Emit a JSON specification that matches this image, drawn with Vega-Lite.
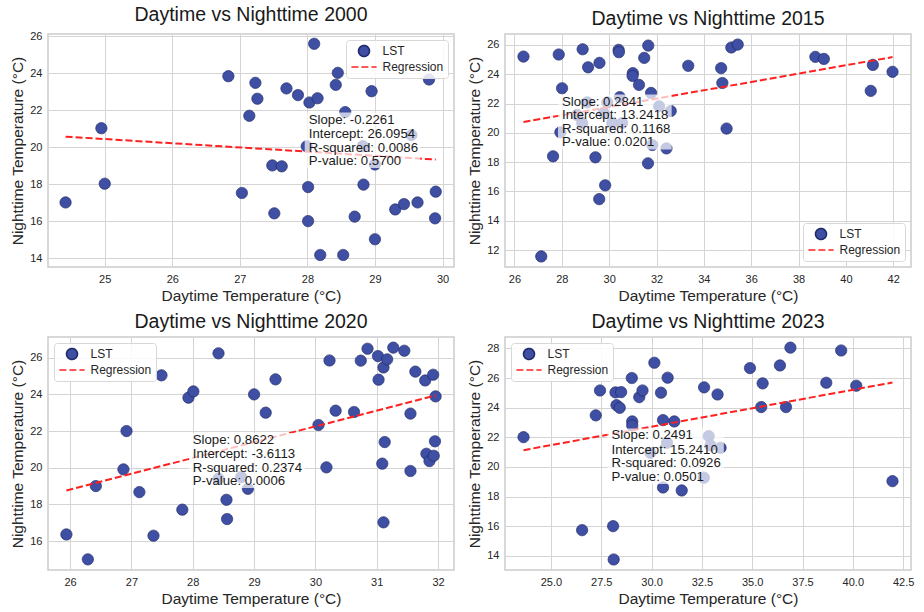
{
  "$schema": "https://vega.github.io/schema/vega-lite/v6.json",
  "padding": {"left": 10, "top": 3, "right": 0, "bottom": 0},
  "columns": 2,
  "spacing": {"row": 5, "column": 12},
  "resolve": {"scale": {"shape": "independent", "stroke": "independent", "strokeDash": "independent", "x": "independent", "y": "independent"}, "legend": {"shape": "independent", "stroke": "independent", "strokeDash": "independent"}},
  "config": {
    "font": "Liberation Sans",
    "view": {"stroke": "#cccccc", "strokeWidth": 1.5},
    "axis": {"grid": true, "gridColor": "#d4d4d4", "gridWidth": 1, "domain": false, "ticks": false, "labelFontSize": 11, "labelColor": "#262626", "labelPadding": 6, "labelOverlap": false, "titleFontSize": 15.5, "titleFontWeight": "normal", "titleColor": "#262626", "titlePadding": 4},
    "title": {"fontSize": 19.5, "fontWeight": "normal", "color": "#1a1a1a", "offset": 5},
    "legend": {"title": null, "padding": 4.5, "offset": 6, "fillColor": "rgba(255,255,255,0.85)", "strokeColor": "#d8d8d8", "cornerRadius": 3, "labelFontSize": 12, "labelColor": "#262626", "symbolSize": 120, "symbolOffset": 7, "labelOffset": 12, "rowPadding": 0, "symbolStrokeWidth": 1.6, "symbolOpacity": 1}
  },
  "datasets": {
    "pts2000": [
      {"day": 24.42, "night": 17.02}, {"day": 24.95, "night": 21.03}, {"day": 25.0, "night": 18.03}, {"day": 26.83, "night": 23.84},
      {"day": 27.03, "night": 17.53}, {"day": 27.14, "night": 21.7}, {"day": 27.23, "night": 23.48}, {"day": 27.26, "night": 22.62},
      {"day": 27.48, "night": 19.02}, {"day": 27.51, "night": 16.43}, {"day": 27.62, "night": 18.97}, {"day": 27.69, "night": 23.18},
      {"day": 27.86, "night": 22.82}, {"day": 28.01, "night": 17.85}, {"day": 28.01, "night": 16.01}, {"day": 28.03, "night": 22.42},
      {"day": 28.1, "night": 25.59}, {"day": 28.15, "night": 22.65}, {"day": 28.19, "night": 14.18}, {"day": 28.42, "night": 23.37},
      {"day": 28.45, "night": 24.02}, {"day": 28.53, "night": 14.18}, {"day": 28.56, "night": 21.9}, {"day": 28.7, "night": 16.25},
      {"day": 28.83, "night": 17.98}, {"day": 28.95, "night": 23.03}, {"day": 29.0, "night": 15.03}, {"day": 29.0, "night": 19.07},
      {"day": 29.3, "night": 16.64}, {"day": 29.43, "night": 16.93}, {"day": 29.63, "night": 17.02}, {"day": 29.54, "night": 20.66},
      {"day": 29.8, "night": 23.66}, {"day": 29.9, "night": 17.6}, {"day": 29.89, "night": 16.16}, {"day": 27.99, "night": 20.05},
      {"day": 28.82, "night": 20.06}
    ],
    "reg2000": [{"day": 24.42, "night": 20.574}, {"day": 29.9, "night": 19.335}],
    "box2000": [{"day": 27.96, "day2": 29.67, "night": 21.88, "night2": 18.88}],
    "txt2000": [
      {"day": 28.02, "night": 21.48, "label": "Slope: -0.2261"},
      {"day": 28.02, "night": 20.73, "label": "Intercept: 26.0954"},
      {"day": 28.02, "night": 19.97, "label": "R-squared: 0.0086"},
      {"day": 28.02, "night": 19.25, "label": "P-value: 0.5700"}
    ],
    "pts2015": [
      {"day": 26.38, "night": 25.2}, {"day": 27.13, "night": 11.57}, {"day": 27.63, "night": 18.4}, {"day": 27.87, "night": 25.34},
      {"day": 28.01, "night": 23.04}, {"day": 27.94, "night": 20.04}, {"day": 28.88, "night": 25.7}, {"day": 29.11, "night": 24.47},
      {"day": 29.42, "night": 18.33}, {"day": 29.59, "night": 24.77}, {"day": 29.58, "night": 15.48}, {"day": 29.83, "night": 16.42},
      {"day": 30.4, "night": 25.66}, {"day": 30.41, "night": 25.5}, {"day": 31.0, "night": 24.07}, {"day": 30.99, "night": 23.88},
      {"day": 31.26, "night": 23.27}, {"day": 31.48, "night": 25.11}, {"day": 31.65, "night": 25.95}, {"day": 31.64, "night": 17.92},
      {"day": 31.77, "night": 22.72}, {"day": 33.34, "night": 24.57}, {"day": 34.73, "night": 24.41}, {"day": 34.78, "night": 23.4},
      {"day": 34.96, "night": 20.29}, {"day": 35.16, "night": 25.82}, {"day": 35.43, "night": 26.02}, {"day": 38.71, "night": 25.18},
      {"day": 39.07, "night": 25.04}, {"day": 41.05, "night": 22.86}, {"day": 41.14, "night": 24.63}, {"day": 41.97, "night": 24.16},
      {"day": 29.07, "night": 22.08}, {"day": 29.92, "night": 22.08}, {"day": 30.45, "night": 22.43}, {"day": 28.64, "night": 21.22},
      {"day": 29.77, "night": 21.36}, {"day": 28.86, "night": 20.67}, {"day": 30.13, "night": 20.67}, {"day": 30.55, "night": 20.67},
      {"day": 32.11, "night": 21.81}, {"day": 32.6, "night": 21.49}, {"day": 31.82, "night": 19.17}, {"day": 32.42, "night": 18.94}
    ],
    "reg2015": [{"day": 26.38, "night": 20.736}, {"day": 41.97, "night": 25.166}],
    "box2015": [{"day": 27.84, "day2": 32.64, "night": 22.61, "night2": 18.87}],
    "txt2015": [
      {"day": 28.01, "night": 22.13, "label": "Slope: 0.2841"},
      {"day": 28.01, "night": 21.22, "label": "Intercept: 13.2418"},
      {"day": 28.01, "night": 20.26, "label": "R-squared: 0.1168"},
      {"day": 28.01, "night": 19.35, "label": "P-value: 0.0201"}
    ],
    "pts2020": [
      {"day": 25.94, "night": 16.36}, {"day": 26.29, "night": 15.0}, {"day": 26.42, "night": 19.0}, {"day": 26.87, "night": 19.91},
      {"day": 26.92, "night": 22.0}, {"day": 27.13, "night": 18.67}, {"day": 27.36, "night": 16.29}, {"day": 27.49, "night": 25.04},
      {"day": 27.83, "night": 17.71}, {"day": 27.93, "night": 23.82}, {"day": 28.01, "night": 24.16}, {"day": 28.42, "night": 26.24},
      {"day": 28.55, "night": 18.25}, {"day": 28.56, "night": 17.2}, {"day": 29.0, "night": 24.0}, {"day": 29.19, "night": 23.0},
      {"day": 29.35, "night": 24.82}, {"day": 30.05, "night": 22.33}, {"day": 30.18, "night": 20.02}, {"day": 30.23, "night": 25.85},
      {"day": 30.33, "night": 23.11}, {"day": 30.63, "night": 23.04}, {"day": 30.74, "night": 25.84}, {"day": 30.85, "night": 26.49},
      {"day": 31.02, "night": 26.09}, {"day": 31.03, "night": 24.8}, {"day": 31.11, "night": 25.47}, {"day": 31.17, "night": 25.91},
      {"day": 31.09, "night": 20.22}, {"day": 31.13, "night": 21.4}, {"day": 31.11, "night": 17.02}, {"day": 31.27, "night": 26.55},
      {"day": 31.45, "night": 26.38}, {"day": 31.55, "night": 22.95}, {"day": 31.55, "night": 19.82}, {"day": 31.63, "night": 25.24},
      {"day": 31.79, "night": 24.76}, {"day": 31.81, "night": 20.76}, {"day": 31.86, "night": 20.36}, {"day": 31.92, "night": 25.07},
      {"day": 31.96, "night": 23.89}, {"day": 31.95, "night": 21.44}, {"day": 31.93, "night": 20.65},
      {"day": 28.42, "night": 19.4}, {"day": 28.79, "night": 19.49}, {"day": 28.9, "night": 18.85}
    ],
    "reg2020": [{"day": 25.94, "night": 18.754}, {"day": 31.96, "night": 23.945}],
    "box2020": [{"day": 27.94, "day2": 29.83, "night": 21.89, "night2": 18.89}],
    "txt2020": [
      {"day": 28.0, "night": 21.49, "label": "Slope: 0.8622"},
      {"day": 28.0, "night": 20.76, "label": "Intercept: -3.6113"},
      {"day": 28.0, "night": 20.0, "label": "R-squared: 0.2374"},
      {"day": 28.0, "night": 19.27, "label": "P-value: 0.0006"}
    ],
    "pts2023": [
      {"day": 23.64, "night": 22.01}, {"day": 26.55, "night": 15.73}, {"day": 27.23, "night": 23.48}, {"day": 27.44, "night": 25.16},
      {"day": 28.09, "night": 16.0}, {"day": 28.12, "night": 13.75}, {"day": 28.21, "night": 25.03}, {"day": 28.26, "night": 24.17},
      {"day": 28.42, "night": 23.99}, {"day": 28.49, "night": 25.05}, {"day": 29.02, "night": 26.0}, {"day": 29.04, "night": 23.07},
      {"day": 29.04, "night": 22.8}, {"day": 29.39, "night": 24.71}, {"day": 29.55, "night": 25.16}, {"day": 30.14, "night": 27.03},
      {"day": 30.47, "night": 25.01}, {"day": 30.57, "night": 23.16}, {"day": 30.8, "night": 26.02}, {"day": 31.13, "night": 23.07},
      {"day": 31.5, "night": 18.41}, {"day": 30.57, "night": 18.61}, {"day": 32.61, "night": 25.37}, {"day": 33.28, "night": 24.89},
      {"day": 34.89, "night": 26.67}, {"day": 35.45, "night": 24.04}, {"day": 35.52, "night": 25.64}, {"day": 36.38, "night": 26.85},
      {"day": 36.68, "night": 24.04}, {"day": 36.9, "night": 28.05}, {"day": 38.68, "night": 25.68}, {"day": 39.42, "night": 27.86},
      {"day": 40.17, "night": 25.48}, {"day": 41.97, "night": 19.04},
      {"day": 29.94, "night": 20.95}, {"day": 30.77, "night": 21.63}, {"day": 32.84, "night": 22.08}, {"day": 32.93, "night": 21.45},
      {"day": 33.43, "night": 21.29}, {"day": 32.6, "night": 19.27}
    ],
    "reg2023": [{"day": 23.64, "night": 21.13}, {"day": 41.97, "night": 25.696}],
    "box2023": [{"day": 27.81, "day2": 33.59, "night": 22.6, "night2": 18.84}],
    "txt2023": [
      {"day": 28.01, "night": 22.13, "label": "Slope: 0.2491"},
      {"day": 28.01, "night": 21.16, "label": "Intercept: 15.2410"},
      {"day": 28.01, "night": 20.26, "label": "R-squared: 0.0926"},
      {"day": 28.01, "night": 19.31, "label": "P-value: 0.0501"}
    ]
  },
  "concat": [
    {
      "width": 406, "height": 233,
      "title": "Daytime vs Nighttime 2000",
      "encoding": {
        "x": {"field": "day", "type": "quantitative", "scale": {"domain": [24.16, 30.17], "nice": false, "zero": false}, "axis": {"values": [25, 26, 27, 28, 29, 30], "format": "d", "title": "Daytime Temperature (°C)"}},
        "y": {"field": "night", "type": "quantitative", "scale": {"domain": [13.53, 26.12], "nice": false, "zero": false}, "axis": {"values": [14, 16, 18, 20, 22, 24, 26], "format": "d", "title": "Nighttime Temperature (°C)"}}
      },
      "layer": [
        {"data": {"name": "pts2000"}, "mark": {"type": "point", "filled": true, "fill": "#3f4fa3", "size": 125, "strokeWidth": 0.8, "opacity": 1},
         "encoding": {
           "shape": {"datum": "LST", "type": "nominal", "scale": {"domain": ["LST", "Regression"], "range": ["circle", "M-2.3,0L2.3,0"]}, "legend": {"orient": "top-right"}},
           "stroke": {"datum": "LST", "type": "nominal", "scale": {"domain": ["LST", "Regression"], "range": ["#1f2a6b", "#ff2020"]}, "legend": {"orient": "top-right"}},
           "strokeDash": {"datum": "LST", "type": "nominal", "scale": {"domain": ["LST", "Regression"], "range": [[1, 0], [7, 3]]}, "legend": {"orient": "top-right"}}
         }},
        {"data": {"name": "reg2000"}, "mark": {"type": "line", "stroke": "#ff2020", "strokeDash": [7, 3], "strokeWidth": 2}, "encoding": {}},
        {"data": {"name": "box2000"}, "mark": {"type": "rect", "fill": "white", "opacity": 0.7},
         "encoding": {"x2": {"field": "day2"}, "y2": {"field": "night2"}}},
        {"data": {"name": "txt2000"}, "mark": {"type": "text", "align": "left", "baseline": "middle", "fontSize": 13.2, "color": "#1a1a1a"},
         "encoding": {"text": {"field": "label"}}}
      ]
    },
    {
      "width": 406, "height": 233,
      "title": "Daytime vs Nighttime 2015",
      "encoding": {
        "x": {"field": "day", "type": "quantitative", "scale": {"domain": [25.6, 42.75], "nice": false, "zero": false}, "axis": {"values": [26, 28, 30, 32, 34, 36, 38, 40, 42], "format": "d", "title": "Daytime Temperature (°C)"}},
        "y": {"field": "night", "type": "quantitative", "scale": {"domain": [10.85, 26.74], "nice": false, "zero": false}, "axis": {"values": [12, 14, 16, 18, 20, 22, 24, 26], "format": "d", "title": "Nighttime Temperature (°C)"}}
      },
      "layer": [
        {"data": {"name": "pts2015"}, "mark": {"type": "point", "filled": true, "fill": "#3f4fa3", "size": 125, "strokeWidth": 0.8, "opacity": 1},
         "encoding": {
           "shape": {"datum": "LST", "type": "nominal", "scale": {"domain": ["LST", "Regression"], "range": ["circle", "M-2.3,0L2.3,0"]}, "legend": {"orient": "bottom-right"}},
           "stroke": {"datum": "LST", "type": "nominal", "scale": {"domain": ["LST", "Regression"], "range": ["#1f2a6b", "#ff2020"]}, "legend": {"orient": "bottom-right"}},
           "strokeDash": {"datum": "LST", "type": "nominal", "scale": {"domain": ["LST", "Regression"], "range": [[1, 0], [7, 3]]}, "legend": {"orient": "bottom-right"}}
         }},
        {"data": {"name": "reg2015"}, "mark": {"type": "line", "stroke": "#ff2020", "strokeDash": [7, 3], "strokeWidth": 2}, "encoding": {}},
        {"data": {"name": "box2015"}, "mark": {"type": "rect", "fill": "white", "opacity": 0.7},
         "encoding": {"x2": {"field": "day2"}, "y2": {"field": "night2"}}},
        {"data": {"name": "txt2015"}, "mark": {"type": "text", "align": "left", "baseline": "middle", "fontSize": 13.2, "color": "#1a1a1a"},
         "encoding": {"text": {"field": "label"}}}
      ]
    },
    {
      "width": 406, "height": 233,
      "title": "Daytime vs Nighttime 2020",
      "encoding": {
        "x": {"field": "day", "type": "quantitative", "scale": {"domain": [25.64, 32.26], "nice": false, "zero": false}, "axis": {"values": [26, 27, 28, 29, 30, 31, 32], "format": "d", "title": "Daytime Temperature (°C)"}},
        "y": {"field": "night", "type": "quantitative", "scale": {"domain": [14.42, 27.13], "nice": false, "zero": false}, "axis": {"values": [16, 18, 20, 22, 24, 26], "format": "d", "title": "Nighttime Temperature (°C)"}}
      },
      "layer": [
        {"data": {"name": "pts2020"}, "mark": {"type": "point", "filled": true, "fill": "#3f4fa3", "size": 125, "strokeWidth": 0.8, "opacity": 1},
         "encoding": {
           "shape": {"datum": "LST", "type": "nominal", "scale": {"domain": ["LST", "Regression"], "range": ["circle", "M-2.3,0L2.3,0"]}, "legend": {"orient": "top-left"}},
           "stroke": {"datum": "LST", "type": "nominal", "scale": {"domain": ["LST", "Regression"], "range": ["#1f2a6b", "#ff2020"]}, "legend": {"orient": "top-left"}},
           "strokeDash": {"datum": "LST", "type": "nominal", "scale": {"domain": ["LST", "Regression"], "range": [[1, 0], [7, 3]]}, "legend": {"orient": "top-left"}}
         }},
        {"data": {"name": "reg2020"}, "mark": {"type": "line", "stroke": "#ff2020", "strokeDash": [7, 3], "strokeWidth": 2}, "encoding": {}},
        {"data": {"name": "box2020"}, "mark": {"type": "rect", "fill": "white", "opacity": 0.7},
         "encoding": {"x2": {"field": "day2"}, "y2": {"field": "night2"}}},
        {"data": {"name": "txt2020"}, "mark": {"type": "text", "align": "left", "baseline": "middle", "fontSize": 13.2, "color": "#1a1a1a"},
         "encoding": {"text": {"field": "label"}}}
      ]
    },
    {
      "width": 406, "height": 233,
      "title": "Daytime vs Nighttime 2023",
      "encoding": {
        "x": {"field": "day", "type": "quantitative", "scale": {"domain": [22.72, 42.89], "nice": false, "zero": false}, "axis": {"values": [25, 27.5, 30, 32.5, 35, 37.5, 40, 42.5], "format": ".1f", "title": "Daytime Temperature (°C)"}},
        "y": {"field": "night", "type": "quantitative", "scale": {"domain": [13.04, 28.77], "nice": false, "zero": false}, "axis": {"values": [14, 16, 18, 20, 22, 24, 26, 28], "format": "d", "title": "Nighttime Temperature (°C)"}}
      },
      "layer": [
        {"data": {"name": "pts2023"}, "mark": {"type": "point", "filled": true, "fill": "#3f4fa3", "size": 125, "strokeWidth": 0.8, "opacity": 1},
         "encoding": {
           "shape": {"datum": "LST", "type": "nominal", "scale": {"domain": ["LST", "Regression"], "range": ["circle", "M-2.3,0L2.3,0"]}, "legend": {"orient": "top-left"}},
           "stroke": {"datum": "LST", "type": "nominal", "scale": {"domain": ["LST", "Regression"], "range": ["#1f2a6b", "#ff2020"]}, "legend": {"orient": "top-left"}},
           "strokeDash": {"datum": "LST", "type": "nominal", "scale": {"domain": ["LST", "Regression"], "range": [[1, 0], [7, 3]]}, "legend": {"orient": "top-left"}}
         }},
        {"data": {"name": "reg2023"}, "mark": {"type": "line", "stroke": "#ff2020", "strokeDash": [7, 3], "strokeWidth": 2}, "encoding": {}},
        {"data": {"name": "box2023"}, "mark": {"type": "rect", "fill": "white", "opacity": 0.7},
         "encoding": {"x2": {"field": "day2"}, "y2": {"field": "night2"}}},
        {"data": {"name": "txt2023"}, "mark": {"type": "text", "align": "left", "baseline": "middle", "fontSize": 13.2, "color": "#1a1a1a"},
         "encoding": {"text": {"field": "label"}}}
      ]
    }
  ]
}
